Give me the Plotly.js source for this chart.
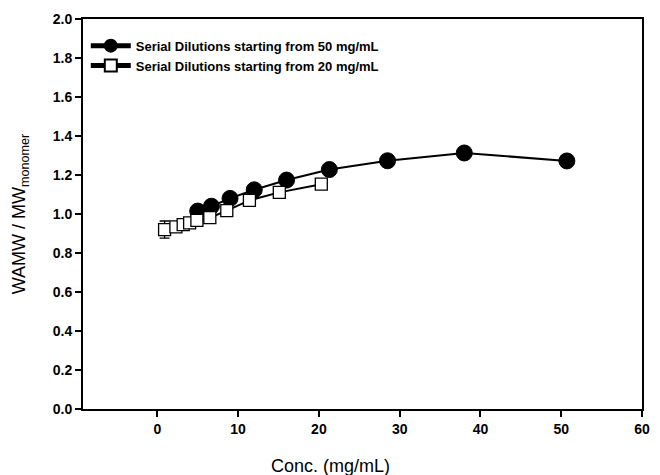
<!DOCTYPE html>
<html>
<head>
<meta charset="utf-8">
<script src="https://cdn.plot.ly/plotly-3.0.1.min.js"></script>
<style>html,body{margin:0;padding:0;background:#fff;}#chart{width:660px;height:475px;}</style>
</head>
<body>
<div id="chart"></div>
<script>
// Series 1: serial dilutions starting from 50 mg/mL
var conc50 = [5.0, 6.7, 9.0, 12.0, 16.0, 21.3, 28.5, 38.0, 50.7];
var ratio50 = [1.015, 1.040, 1.080, 1.124, 1.174, 1.228, 1.273, 1.313, 1.272];

// Series 2: serial dilutions starting from 20 mg/mL
var conc20 = [0.9, 2.3, 3.2, 4.0, 4.9, 6.5, 8.6, 11.4, 15.1, 20.3];
var ratio20 = [0.920, 0.934, 0.946, 0.955, 0.967, 0.981, 1.017, 1.070, 1.111, 1.153];
var err20 = [0.044, 0.01, 0.01, 0.01, 0.01, 0.01, 0.01, 0.01, 0.01, 0.01];

var seriesNames = ["Serial Dilutions starting from 50 mg/mL", "Serial Dilutions starting from 20 mg/mL"];
var xTicks = [0, 10, 20, 30, 40, 50, 60];
var yTicks = [0.0, 0.2, 0.4, 0.6, 0.8, 1.0, 1.2, 1.4, 1.6, 1.8, 2.0];
var xTitle = "Conc. (mg/mL)";
var yTitle = "WAMW / MW<sub>monomer</sub>";

var FONT = "Liberation Sans, Arial, Helvetica, sans-serif";

var traces = [
  {
    x: conc50, y: ratio50, name: seriesNames[0], type: "scatter", mode: "lines+markers",
    line: {color: "#000", width: 2},
    marker: {symbol: "circle", size: 16, color: "#000", line: {color: "#000", width: 1}}
  },
  {
    x: conc20, y: ratio20, name: seriesNames[1], type: "scatter", mode: "lines+markers",
    line: {color: "#000", width: 2},
    marker: {symbol: "square", size: 12, color: "#fff", line: {color: "#000", width: 1.3}},
    error_y: {type: "data", array: err20, visible: true, color: "#000", thickness: 1.3, width: 5}
  }
];

var layout = {
  width: 660, height: 475,
  margin: {l: 83, r: 18, t: 19, b: 66},
  paper_bgcolor: "#fff", plot_bgcolor: "#fff",
  showlegend: true,
  legend: {
    x: 0.005, y: 0.97, xanchor: "left", yanchor: "top",
    bgcolor: "rgba(0,0,0,0)", borderwidth: 0,
    font: {family: FONT, size: 13, color: "#000", weight: "bold"},
    tracegroupgap: 0, itemsizing: "constant", itemwidth: 40
  },
  xaxis: {
    range: [-9.2, 60], tickvals: xTicks, ticktext: xTicks.map(String),
    showgrid: false, zeroline: false,
    showline: true, linecolor: "#000", linewidth: 2, mirror: true,
    ticks: "outside", ticklen: 6, tickwidth: 2, tickcolor: "#000",
    tickfont: {family: FONT, size: 14, color: "#000", weight: "bold"}
  },
  yaxis: {
    range: [0, 2.0], tickvals: yTicks, ticktext: yTicks.map(function(v){return v.toFixed(1);}),
    showgrid: false, zeroline: false,
    showline: true, linecolor: "#000", linewidth: 2, mirror: true,
    ticks: "outside", ticklen: 6, tickwidth: 2, tickcolor: "#000",
    tickfont: {family: FONT, size: 14, color: "#000", weight: "bold"},
    title: {text: yTitle, font: {family: FONT, size: 18, color: "#000"}, standoff: 22}
  },
  annotations: [
    {text: xTitle, xref: "paper", yref: "paper", x: 0.442, y: -0.145,
     xanchor: "center", yanchor: "middle", showarrow: false,
     font: {family: FONT, size: 18, color: "#000"}}
  ]
};

Plotly.newPlot("chart", traces, layout, {displayModeBar: false, staticPlot: true});
</script>
</body>
</html>
